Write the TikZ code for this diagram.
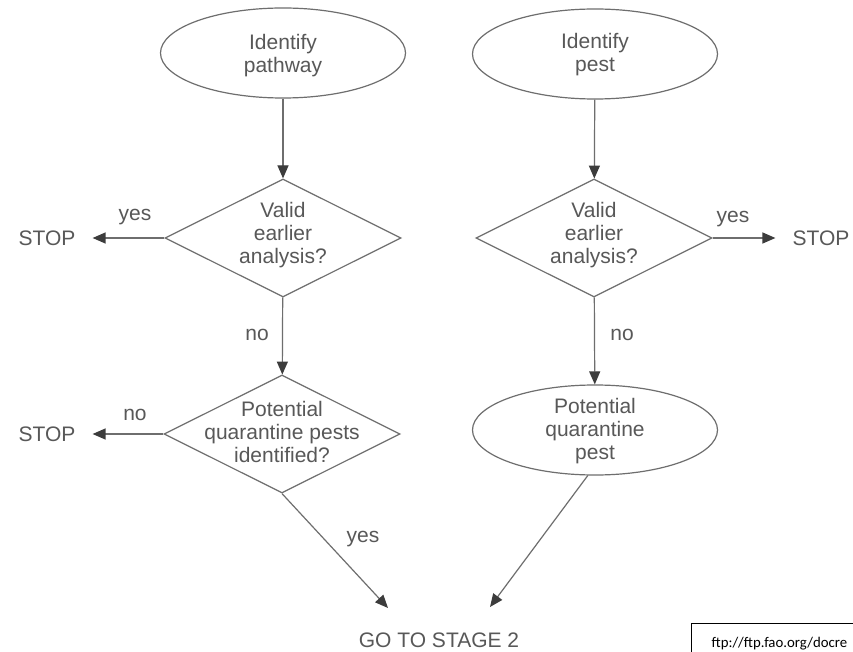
\documentclass[tikz,border=0pt]{standalone}
\usepackage{fontspec}
\setmainfont{Liberation Sans}
\newfontfamily\urlfont{Carlito}
\usetikzlibrary{shapes.geometric,arrows.meta}

\definecolor{ink}{RGB}{88,88,88}
\definecolor{wire}{RGB}{110,110,110}
\definecolor{tipgray}{RGB}{60,60,60}

\tikzset{>={Triangle[length=13pt,width=11pt,color=tipgray]},
                 ell/.style={draw=wire, ellipse, line width=1.2pt, minimum width=245pt, minimum height=90pt, inner sep=0pt},
                 dia/.style={draw=wire, diamond, line width=1.2pt, minimum width=236pt, minimum height=118pt, inner sep=0pt},
                 txt/.style={text=ink, align=center, inner sep=0pt, font=\fontsize{21}{23}\selectfont},
                 lbl/.style={text=ink, inner sep=0pt, font=\fontsize{21}{23}\selectfont},
                 arr/.style={draw=wire, line width=1.2pt, ->},
              srcbox/.style={draw=black, line width=1.3pt, text width=170pt, align=left, minimum height=39pt,
                             inner xsep=20pt, inner ysep=0pt, font=\urlfont\fontsize{14.8}{18}\selectfont}}

\begin{document}
\begin{tikzpicture}[x=1pt, y=-1pt]
            \useasboundingbox (0,0) rectangle (853,652);
            \fill[white] (0,0) rectangle (853,652);
            \clip (0,0) rectangle (853,652);

            \node[ell] at (283,  53) (pathway) {};
            \node[ell] at (595,  54) (pest)    {};
            \node[dia] at (283, 238) (valid-l) {};
            \node[dia] at (594, 238) (valid-r) {};
            \node[dia] at (282, 434) (pqi)     {};
            \node[ell] at (595, 430) (pqp)     {};

            \node[txt] at (283,  56) (pathway-t) {Identify\\pathway};
            \node[txt] at (595,  55) (pest-t)    {Identify\\pest};
            \node[txt] at (283, 235) (valid-l-t) {Valid\\earlier\\analysis?};
            \node[txt] at (594, 235) (valid-r-t) {Valid\\earlier\\analysis?};
            \node[txt] at (282, 432) (pqi-t)     {Potential\\quarantine pests\\identified?};
            \node[txt] at (595, 431) (pqp-t)     {Potential\\quarantine\\pest};

            \node[lbl] at ( 47, 238) (stop-l1) {STOP};
            \node[lbl] at ( 47, 434) (stop-l2) {STOP};
            \node[lbl] at (821, 238) (stop-r)  {STOP};
            \node[lbl] at (439, 640) (stage)   {GO TO STAGE 2};

            \node[lbl] at (135, 217) (yes-l) {yes};
            \node[lbl] at (733, 219) (yes-r) {yes};
            \node[lbl] at (257, 335) (no-l)  {no};
            \node[lbl] at (622, 335) (no-r)  {no};
            \node[lbl] at (135, 415) (no-pq) {no};
            \node[lbl] at (363, 539) (yes-pq) {yes};

            \coordinate (go-l) at (388, 608);
            \coordinate (go-r) at (490, 607);

            \draw[arr] (pathway) -- (valid-l);
            \draw[arr] (pest)    -- (valid-r);
            \draw[arr] (valid-l) -- (pqi);
            \draw[arr] (valid-r) -- (pqp);

            \draw[arr, shorten >=17pt] (valid-l.west) -- (stop-l1);
            \draw[arr, shorten >=17pt] (valid-r.east) -- (stop-r);
            \draw[arr, shorten >=17pt] (pqi.west)     -- (stop-l2);

            \draw[arr] (pqi.south) -- (go-l);
            \draw[arr] (pqp.-99)   -- (go-r);

            \node[srcbox, anchor=north west] at (691, 623) (src) {ftp://ftp.fao.org/docre};
        \end{tikzpicture}
\end{document}
